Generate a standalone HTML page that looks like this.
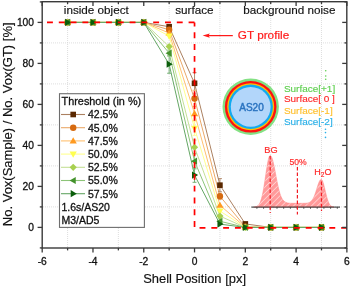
<!DOCTYPE html>
<html><head><meta charset="utf-8"><style>
html,body{margin:0;padding:0;background:#fff;width:350px;height:287px;overflow:hidden}
svg{display:block;will-change:transform}
</style></head><body>
<svg width="350" height="287" viewBox="0 0 350 287">
<g stroke="#d6d6d6" stroke-width="0.8" stroke-dasharray="1 1"><line x1="67.59" y1="2" x2="67.59" y2="247.5"/><line x1="118.37" y1="2" x2="118.37" y2="247.5"/><line x1="169.15" y1="2" x2="169.15" y2="247.5"/><line x1="219.93" y1="2" x2="219.93" y2="247.5"/><line x1="270.71" y1="2" x2="270.71" y2="247.5"/><line x1="321.49" y1="2" x2="321.49" y2="247.5"/><line x1="43" y1="206.90" x2="346" y2="206.90"/><line x1="43" y1="165.90" x2="346" y2="165.90"/><line x1="43" y1="124.90" x2="346" y2="124.90"/><line x1="43" y1="83.90" x2="346" y2="83.90"/><line x1="43" y1="42.90" x2="346" y2="42.90"/></g>
<polyline points="67.59,22.40 92.98,22.40 118.37,22.40 143.76,22.40 169.15,26.71 194.54,83.29 219.93,185.17 245.32,223.92 270.71,227.40 296.10,227.40 321.49,227.40" fill="none" stroke="#ab8060" stroke-width="1.0"/>
<polyline points="67.59,22.40 92.98,22.40 118.37,22.40 143.76,22.40 169.15,29.78 194.54,98.46 219.93,196.24 245.32,226.78 270.71,227.40 296.10,227.40 321.49,227.40" fill="none" stroke="#eaa868" stroke-width="1.0"/>
<polyline points="67.59,22.40 92.98,22.40 118.37,22.40 143.76,22.40 169.15,33.06 194.54,113.63 219.93,205.26 245.32,227.19 270.71,227.40 296.10,227.40 321.49,227.40" fill="none" stroke="#ffc070" stroke-width="1.0"/>
<polyline points="67.59,22.40 92.98,22.40 118.37,22.40 143.76,22.40 169.15,36.14 194.54,128.18 219.93,211.00 245.32,227.40 270.71,227.40 296.10,227.40 321.49,227.40" fill="none" stroke="#ffff90" stroke-width="1.0"/>
<polyline points="67.59,22.40 92.98,22.40 118.37,22.40 143.76,22.40 169.15,46.59 194.54,147.25 219.93,216.12 245.32,227.40 270.71,227.40 296.10,227.40 321.49,227.40" fill="none" stroke="#c4e096" stroke-width="1.0"/>
<polyline points="67.59,22.40 92.98,22.40 118.37,22.40 143.76,22.40 169.15,53.15 194.54,161.19 219.93,221.25 245.32,227.40 270.71,227.40 296.10,227.40 321.49,227.40" fill="none" stroke="#8cc478" stroke-width="1.0"/>
<polyline points="67.59,22.40 92.98,22.40 118.37,22.40 143.76,22.40 169.15,64.22 194.54,175.12 219.93,224.12 245.32,227.40 270.71,227.40 296.10,227.40 321.49,227.40" fill="none" stroke="#64a664" stroke-width="1.0"/>
<g stroke="#64a664" stroke-width="0.9"><line x1="169.15" y1="55.20" x2="169.15" y2="73.24"/><line x1="167.15" y1="55.20" x2="171.15" y2="55.20"/><line x1="167.15" y1="73.24" x2="171.15" y2="73.24"/></g>
<g stroke="#ab8060" stroke-width="0.9"><line x1="219.93" y1="178.61" x2="219.93" y2="191.73"/><line x1="217.93" y1="178.61" x2="221.93" y2="178.61"/><line x1="217.93" y1="191.73" x2="221.93" y2="191.73"/></g>
<g stroke="#8cc478" stroke-width="0.9"><line x1="169.15" y1="50.08" x2="169.15" y2="56.23"/><line x1="167.15" y1="50.08" x2="171.15" y2="50.08"/><line x1="167.15" y1="56.23" x2="171.15" y2="56.23"/></g>
<g stroke="#eaa868" stroke-width="0.9"><line x1="219.93" y1="193.17" x2="219.93" y2="199.31"/><line x1="217.93" y1="193.17" x2="221.93" y2="193.17"/><line x1="217.93" y1="199.31" x2="221.93" y2="199.31"/></g>
<g stroke="#ab8060" stroke-width="0.9"><line x1="194.54" y1="72.63" x2="194.54" y2="93.95"/><line x1="192.54" y1="72.63" x2="196.54" y2="72.63"/><line x1="192.54" y1="93.95" x2="196.54" y2="93.95"/></g>
<g stroke="#eaa868" stroke-width="0.9"><line x1="194.54" y1="90.25" x2="194.54" y2="106.66"/><line x1="192.54" y1="90.25" x2="196.54" y2="90.25"/><line x1="192.54" y1="106.66" x2="196.54" y2="106.66"/></g>
<g stroke="#ffc070" stroke-width="0.9"><line x1="194.54" y1="106.45" x2="194.54" y2="120.80"/><line x1="192.54" y1="106.45" x2="196.54" y2="106.45"/><line x1="192.54" y1="120.80" x2="196.54" y2="120.80"/></g>
<g stroke="#ffff90" stroke-width="0.9"><line x1="194.54" y1="121.01" x2="194.54" y2="135.36"/><line x1="192.54" y1="121.01" x2="196.54" y2="121.01"/><line x1="192.54" y1="135.36" x2="196.54" y2="135.36"/></g>
<g stroke="#c4e096" stroke-width="0.9"><line x1="194.54" y1="140.07" x2="194.54" y2="154.42"/><line x1="192.54" y1="140.07" x2="196.54" y2="140.07"/><line x1="192.54" y1="154.42" x2="196.54" y2="154.42"/></g>
<g stroke="#8cc478" stroke-width="0.9"><line x1="194.54" y1="153.40" x2="194.54" y2="168.98"/><line x1="192.54" y1="153.40" x2="196.54" y2="153.40"/><line x1="192.54" y1="168.98" x2="196.54" y2="168.98"/></g>
<g stroke="#64a664" stroke-width="0.9"><line x1="194.54" y1="167.95" x2="194.54" y2="182.30"/><line x1="192.54" y1="167.95" x2="196.54" y2="167.95"/><line x1="192.54" y1="182.30" x2="196.54" y2="182.30"/></g>
<rect x="64.79" y="19.60" width="5.60" height="5.60" fill="#5a2800"/>
<rect x="90.18" y="19.60" width="5.60" height="5.60" fill="#5a2800"/>
<rect x="115.57" y="19.60" width="5.60" height="5.60" fill="#5a2800"/>
<rect x="140.96" y="19.60" width="5.60" height="5.60" fill="#5a2800"/>
<rect x="166.35" y="23.91" width="5.60" height="5.60" fill="#5a2800"/>
<rect x="191.74" y="80.49" width="5.60" height="5.60" fill="#5a2800"/>
<rect x="217.13" y="182.37" width="5.60" height="5.60" fill="#5a2800"/>
<rect x="242.52" y="221.12" width="5.60" height="5.60" fill="#5a2800"/>
<rect x="267.91" y="224.60" width="5.60" height="5.60" fill="#5a2800"/>
<rect x="293.30" y="224.60" width="5.60" height="5.60" fill="#5a2800"/>
<rect x="318.69" y="224.60" width="5.60" height="5.60" fill="#5a2800"/>
<circle cx="67.59" cy="22.40" r="3.20" fill="#d66a10"/>
<circle cx="92.98" cy="22.40" r="3.20" fill="#d66a10"/>
<circle cx="118.37" cy="22.40" r="3.20" fill="#d66a10"/>
<circle cx="143.76" cy="22.40" r="3.20" fill="#d66a10"/>
<circle cx="169.15" cy="29.78" r="3.20" fill="#d66a10"/>
<circle cx="194.54" cy="98.46" r="3.20" fill="#d66a10"/>
<circle cx="219.93" cy="196.24" r="3.20" fill="#d66a10"/>
<circle cx="245.32" cy="226.78" r="3.20" fill="#d66a10"/>
<circle cx="270.71" cy="227.40" r="3.20" fill="#d66a10"/>
<circle cx="296.10" cy="227.40" r="3.20" fill="#d66a10"/>
<circle cx="321.49" cy="227.40" r="3.20" fill="#d66a10"/>
<path d="M67.59 18.80 L71.19 24.92 L63.99 24.92Z" fill="#ff9a20"/>
<path d="M92.98 18.80 L96.58 24.92 L89.38 24.92Z" fill="#ff9a20"/>
<path d="M118.37 18.80 L121.97 24.92 L114.77 24.92Z" fill="#ff9a20"/>
<path d="M143.76 18.80 L147.36 24.92 L140.16 24.92Z" fill="#ff9a20"/>
<path d="M169.15 29.46 L172.75 35.58 L165.55 35.58Z" fill="#ff9a20"/>
<path d="M194.54 110.03 L198.14 116.15 L190.94 116.15Z" fill="#ff9a20"/>
<path d="M219.93 201.66 L223.53 207.78 L216.33 207.78Z" fill="#ff9a20"/>
<path d="M245.32 223.59 L248.92 229.72 L241.72 229.72Z" fill="#ff9a20"/>
<path d="M270.71 223.80 L274.31 229.92 L267.11 229.92Z" fill="#ff9a20"/>
<path d="M296.10 223.80 L299.70 229.92 L292.50 229.92Z" fill="#ff9a20"/>
<path d="M321.49 223.80 L325.09 229.92 L317.89 229.92Z" fill="#ff9a20"/>
<path d="M67.59 26.00 L71.19 19.88 L63.99 19.88Z" fill="#ffff50"/>
<path d="M92.98 26.00 L96.58 19.88 L89.38 19.88Z" fill="#ffff50"/>
<path d="M118.37 26.00 L121.97 19.88 L114.77 19.88Z" fill="#ffff50"/>
<path d="M143.76 26.00 L147.36 19.88 L140.16 19.88Z" fill="#ffff50"/>
<path d="M169.15 39.74 L172.75 33.62 L165.55 33.62Z" fill="#ffff50"/>
<path d="M194.54 131.78 L198.14 125.66 L190.94 125.66Z" fill="#ffff50"/>
<path d="M219.93 214.60 L223.53 208.48 L216.33 208.48Z" fill="#ffff50"/>
<path d="M245.32 231.00 L248.92 224.88 L241.72 224.88Z" fill="#ffff50"/>
<path d="M270.71 231.00 L274.31 224.88 L267.11 224.88Z" fill="#ffff50"/>
<path d="M296.10 231.00 L299.70 224.88 L292.50 224.88Z" fill="#ffff50"/>
<path d="M321.49 231.00 L325.09 224.88 L317.89 224.88Z" fill="#ffff50"/>
<path d="M67.59 18.80 L71.19 22.40 L67.59 26.00 L63.99 22.40Z" fill="#a8d050"/>
<path d="M92.98 18.80 L96.58 22.40 L92.98 26.00 L89.38 22.40Z" fill="#a8d050"/>
<path d="M118.37 18.80 L121.97 22.40 L118.37 26.00 L114.77 22.40Z" fill="#a8d050"/>
<path d="M143.76 18.80 L147.36 22.40 L143.76 26.00 L140.16 22.40Z" fill="#a8d050"/>
<path d="M169.15 42.99 L172.75 46.59 L169.15 50.19 L165.55 46.59Z" fill="#a8d050"/>
<path d="M194.54 143.65 L198.14 147.25 L194.54 150.84 L190.94 147.25Z" fill="#a8d050"/>
<path d="M219.93 212.53 L223.53 216.12 L219.93 219.72 L216.33 216.12Z" fill="#a8d050"/>
<path d="M245.32 223.80 L248.92 227.40 L245.32 231.00 L241.72 227.40Z" fill="#a8d050"/>
<path d="M270.71 223.80 L274.31 227.40 L270.71 231.00 L267.11 227.40Z" fill="#a8d050"/>
<path d="M296.10 223.80 L299.70 227.40 L296.10 231.00 L292.50 227.40Z" fill="#a8d050"/>
<path d="M321.49 223.80 L325.09 227.40 L321.49 231.00 L317.89 227.40Z" fill="#a8d050"/>
<path d="M63.99 22.40 L70.11 18.80 L70.11 26.00Z" fill="#44922c"/>
<path d="M89.38 22.40 L95.50 18.80 L95.50 26.00Z" fill="#44922c"/>
<path d="M114.77 22.40 L120.89 18.80 L120.89 26.00Z" fill="#44922c"/>
<path d="M140.16 22.40 L146.28 18.80 L146.28 26.00Z" fill="#44922c"/>
<path d="M165.55 53.15 L171.67 49.55 L171.67 56.75Z" fill="#44922c"/>
<path d="M190.94 161.19 L197.06 157.59 L197.06 164.78Z" fill="#44922c"/>
<path d="M216.33 221.25 L222.45 217.65 L222.45 224.85Z" fill="#44922c"/>
<path d="M241.72 227.40 L247.84 223.80 L247.84 231.00Z" fill="#44922c"/>
<path d="M267.11 227.40 L273.23 223.80 L273.23 231.00Z" fill="#44922c"/>
<path d="M292.50 227.40 L298.62 223.80 L298.62 231.00Z" fill="#44922c"/>
<path d="M317.89 227.40 L324.01 223.80 L324.01 231.00Z" fill="#44922c"/>
<path d="M71.19 22.40 L65.07 18.80 L65.07 26.00Z" fill="#0b5e0b"/>
<path d="M96.58 22.40 L90.46 18.80 L90.46 26.00Z" fill="#0b5e0b"/>
<path d="M121.97 22.40 L115.85 18.80 L115.85 26.00Z" fill="#0b5e0b"/>
<path d="M147.36 22.40 L141.24 18.80 L141.24 26.00Z" fill="#0b5e0b"/>
<path d="M172.75 64.22 L166.63 60.62 L166.63 67.82Z" fill="#0b5e0b"/>
<path d="M198.14 175.12 L192.02 171.53 L192.02 178.72Z" fill="#0b5e0b"/>
<path d="M223.53 224.12 L217.41 220.52 L217.41 227.72Z" fill="#0b5e0b"/>
<path d="M248.92 227.40 L242.80 223.80 L242.80 231.00Z" fill="#0b5e0b"/>
<path d="M274.31 227.40 L268.19 223.80 L268.19 231.00Z" fill="#0b5e0b"/>
<path d="M299.70 227.40 L293.58 223.80 L293.58 231.00Z" fill="#0b5e0b"/>
<path d="M325.09 227.40 L318.97 223.80 L318.97 231.00Z" fill="#0b5e0b"/>
<g stroke="#ff0000" stroke-width="1.7" fill="none"><path d="M42.2 22.40 H194.54" stroke-dasharray="5.9 5.9" stroke-dashoffset="7.0"/><path d="M194.54 22.40 V227.40" stroke-dasharray="5.9 5.9" stroke-dashoffset="1.9"/><path d="M194.54 227.80 H347" stroke-dasharray="5.9 5.9" stroke-dashoffset="6.8"/></g>
<rect x="42.2" y="1.7" width="304.60" height="246.30" fill="none" stroke="#3a3a3a" stroke-width="1.4"/>
<g stroke="#3a3a3a" stroke-width="1.3"><line x1="42.20" y1="248.0" x2="42.20" y2="252.4"/><line x1="42.20" y1="1.7" x2="42.20" y2="6.1000000000000005"/><line x1="67.59" y1="248.0" x2="67.59" y2="250.4"/><line x1="67.59" y1="1.7" x2="67.59" y2="4.1"/><line x1="92.98" y1="248.0" x2="92.98" y2="252.4"/><line x1="92.98" y1="1.7" x2="92.98" y2="6.1000000000000005"/><line x1="118.37" y1="248.0" x2="118.37" y2="250.4"/><line x1="118.37" y1="1.7" x2="118.37" y2="4.1"/><line x1="143.76" y1="248.0" x2="143.76" y2="252.4"/><line x1="143.76" y1="1.7" x2="143.76" y2="6.1000000000000005"/><line x1="169.15" y1="248.0" x2="169.15" y2="250.4"/><line x1="169.15" y1="1.7" x2="169.15" y2="4.1"/><line x1="194.54" y1="248.0" x2="194.54" y2="252.4"/><line x1="194.54" y1="1.7" x2="194.54" y2="6.1000000000000005"/><line x1="219.93" y1="248.0" x2="219.93" y2="250.4"/><line x1="219.93" y1="1.7" x2="219.93" y2="4.1"/><line x1="245.32" y1="248.0" x2="245.32" y2="252.4"/><line x1="245.32" y1="1.7" x2="245.32" y2="6.1000000000000005"/><line x1="270.71" y1="248.0" x2="270.71" y2="250.4"/><line x1="270.71" y1="1.7" x2="270.71" y2="4.1"/><line x1="296.10" y1="248.0" x2="296.10" y2="252.4"/><line x1="296.10" y1="1.7" x2="296.10" y2="6.1000000000000005"/><line x1="321.49" y1="248.0" x2="321.49" y2="250.4"/><line x1="321.49" y1="1.7" x2="321.49" y2="4.1"/><line x1="346.88" y1="248.0" x2="346.88" y2="252.4"/><line x1="346.88" y1="1.7" x2="346.88" y2="6.1000000000000005"/><line x1="42.2" y1="247.90" x2="39.800000000000004" y2="247.90"/><line x1="346.8" y1="247.90" x2="344.40000000000003" y2="247.90"/><line x1="42.2" y1="227.40" x2="37.6" y2="227.40"/><line x1="346.8" y1="227.40" x2="342.2" y2="227.40"/><line x1="42.2" y1="206.90" x2="39.800000000000004" y2="206.90"/><line x1="346.8" y1="206.90" x2="344.40000000000003" y2="206.90"/><line x1="42.2" y1="186.40" x2="37.6" y2="186.40"/><line x1="346.8" y1="186.40" x2="342.2" y2="186.40"/><line x1="42.2" y1="165.90" x2="39.800000000000004" y2="165.90"/><line x1="346.8" y1="165.90" x2="344.40000000000003" y2="165.90"/><line x1="42.2" y1="145.40" x2="37.6" y2="145.40"/><line x1="346.8" y1="145.40" x2="342.2" y2="145.40"/><line x1="42.2" y1="124.90" x2="39.800000000000004" y2="124.90"/><line x1="346.8" y1="124.90" x2="344.40000000000003" y2="124.90"/><line x1="42.2" y1="104.40" x2="37.6" y2="104.40"/><line x1="346.8" y1="104.40" x2="342.2" y2="104.40"/><line x1="42.2" y1="83.90" x2="39.800000000000004" y2="83.90"/><line x1="346.8" y1="83.90" x2="344.40000000000003" y2="83.90"/><line x1="42.2" y1="63.40" x2="37.6" y2="63.40"/><line x1="346.8" y1="63.40" x2="342.2" y2="63.40"/><line x1="42.2" y1="42.90" x2="39.800000000000004" y2="42.90"/><line x1="346.8" y1="42.90" x2="344.40000000000003" y2="42.90"/><line x1="42.2" y1="22.40" x2="37.6" y2="22.40"/><line x1="346.8" y1="22.40" x2="342.2" y2="22.40"/><line x1="42.2" y1="1.90" x2="39.800000000000004" y2="1.90"/><line x1="346.8" y1="1.90" x2="344.40000000000003" y2="1.90"/></g>
<g font-family='"Liberation Sans", sans-serif' font-size="10.25" fill="#111" stroke="#111" stroke-width="0.3"><text x="42.20" y="264.6" text-anchor="middle">-6</text><text x="92.98" y="264.6" text-anchor="middle">-4</text><text x="143.76" y="264.6" text-anchor="middle">-2</text><text x="194.54" y="264.6" text-anchor="middle">0</text><text x="245.32" y="264.6" text-anchor="middle">2</text><text x="296.10" y="264.6" text-anchor="middle">4</text><text x="346.88" y="264.6" text-anchor="middle">6</text><text x="34" y="231.00" text-anchor="end">0</text><text x="34" y="190.00" text-anchor="end">20</text><text x="34" y="149.00" text-anchor="end">40</text><text x="34" y="108.00" text-anchor="end">60</text><text x="34" y="67.00" text-anchor="end">80</text><text x="34" y="26.00" text-anchor="end">100</text></g>
<text x="194.6" y="283.4" text-anchor="middle" font-family='"Liberation Sans", sans-serif' font-size="12.95" fill="#111" stroke="#111" stroke-width="0.15">Shell Position [px]</text>
<text transform="translate(11.5 124.3) rotate(-90)" text-anchor="middle" font-family='"Liberation Sans", sans-serif' font-size="13" fill="#111" stroke="#111" stroke-width="0.15">No. Vox(Sample) / No. Vox(GT) [%]</text>
<g font-family='"Liberation Sans", sans-serif' font-size="11.7" fill="#111" stroke="#111" stroke-width="0.15"><text x="63.8" y="14.4">inside object</text><text x="175.2" y="14.4">surface</text><text x="243.2" y="14.4">background noise</text></g>
<g stroke="#ff1a1a" stroke-width="1.25"><line x1="207" y1="35.6" x2="232.8" y2="35.6"/></g><path d="M202.6 35.6 L209.8 33.5 L208.6 35.6 L209.8 37.7Z" fill="#ff1a1a"/><text x="237.8" y="38.9" font-family='"Liberation Sans", sans-serif' font-size="11.75" fill="#ff1a1a" stroke="#ff1a1a" stroke-width="0.2">GT profile</text>
<rect x="59.5" y="93.7" width="84.9" height="133.7" fill="#fff" stroke="#6e6e6e" stroke-width="1.1"/>
<text x="61.6" y="104.8" font-family='"Liberation Sans", sans-serif' font-size="10.85" fill="#111" stroke="#111" stroke-width="0.3">Threshold (in %)</text>
<line x1="61" y1="114.50" x2="85" y2="114.50" stroke="#ab8060" stroke-width="1.1"/>
<rect x="70.40" y="111.70" width="5.60" height="5.60" fill="#5a2800"/>
<text x="88" y="118.40" font-family='"Liberation Sans", sans-serif' font-size="10.5" fill="#111" stroke="#111" stroke-width="0.3">42.5%</text>
<line x1="61" y1="127.70" x2="85" y2="127.70" stroke="#eaa868" stroke-width="1.1"/>
<circle cx="73.20" cy="127.70" r="3.20" fill="#d66a10"/>
<text x="88" y="131.60" font-family='"Liberation Sans", sans-serif' font-size="10.5" fill="#111" stroke="#111" stroke-width="0.3">45.0%</text>
<line x1="61" y1="140.90" x2="85" y2="140.90" stroke="#ffc070" stroke-width="1.1"/>
<path d="M73.20 137.30 L76.80 143.42 L69.60 143.42Z" fill="#ff9a20"/>
<text x="88" y="144.80" font-family='"Liberation Sans", sans-serif' font-size="10.5" fill="#111" stroke="#111" stroke-width="0.3">47.5%</text>
<line x1="61" y1="154.10" x2="85" y2="154.10" stroke="#ffff90" stroke-width="1.1"/>
<path d="M73.20 157.70 L76.80 151.58 L69.60 151.58Z" fill="#ffff50"/>
<text x="88" y="158.00" font-family='"Liberation Sans", sans-serif' font-size="10.5" fill="#111" stroke="#111" stroke-width="0.3">50.0%</text>
<line x1="61" y1="167.30" x2="85" y2="167.30" stroke="#c4e096" stroke-width="1.1"/>
<path d="M73.20 163.70 L76.80 167.30 L73.20 170.90 L69.60 167.30Z" fill="#a8d050"/>
<text x="88" y="171.20" font-family='"Liberation Sans", sans-serif' font-size="10.5" fill="#111" stroke="#111" stroke-width="0.3">52.5%</text>
<line x1="61" y1="180.50" x2="85" y2="180.50" stroke="#8cc478" stroke-width="1.1"/>
<path d="M69.60 180.50 L75.72 176.90 L75.72 184.10Z" fill="#44922c"/>
<text x="88" y="184.40" font-family='"Liberation Sans", sans-serif' font-size="10.5" fill="#111" stroke="#111" stroke-width="0.3">55.0%</text>
<line x1="61" y1="193.70" x2="85" y2="193.70" stroke="#64a664" stroke-width="1.1"/>
<path d="M76.80 193.70 L70.68 190.10 L70.68 197.30Z" fill="#0b5e0b"/>
<text x="88" y="197.60" font-family='"Liberation Sans", sans-serif' font-size="10.5" fill="#111" stroke="#111" stroke-width="0.3">57.5%</text>
<text x="61.4" y="210.8" font-family='"Liberation Sans", sans-serif' font-size="10.5" fill="#111" stroke="#111" stroke-width="0.3">1.6s/AS20</text>
<text x="61.4" y="223.7" font-family='"Liberation Sans", sans-serif' font-size="10.5" fill="#111" stroke="#111" stroke-width="0.3">M3/AD5</text>
<circle cx="250.7" cy="106.8" r="28.2" fill="#84e184"/><circle cx="250.7" cy="106.8" r="25.8" fill="#ff1010"/><circle cx="250.7" cy="106.8" r="23.5" fill="#ffc000"/><circle cx="250.7" cy="106.8" r="22.2" fill="#12aaf0"/><circle cx="250.7" cy="106.8" r="19.9" fill="#b2d6fa"/><text transform="translate(251.5 110.7) scale(0.95 1)" text-anchor="middle" font-family='"Liberation Sans", sans-serif' font-size="10.6" fill="#2b74c0" stroke="#2b74c0" stroke-width="0.45">AS20</text>
<text transform="translate(283.9 91.7) scale(1.04 1)" font-family='"Liberation Sans", sans-serif' font-size="9.6" fill="#5fcf50" stroke="#5fcf50" stroke-width="0.15" xml:space="preserve">Surface[+1]</text>
<text transform="translate(283.9 102.30000000000001) scale(1.04 1)" font-family='"Liberation Sans", sans-serif' font-size="9.6" fill="#ff2a2a" stroke="#ff2a2a" stroke-width="0.15" xml:space="preserve">Surface[ 0 ]</text>
<text transform="translate(283.9 113.80000000000001) scale(1.04 1)" font-family='"Liberation Sans", sans-serif' font-size="9.6" fill="#ffc030" stroke="#ffc030" stroke-width="0.15" xml:space="preserve">Surface[-1]</text>
<text transform="translate(283.9 124.9) scale(1.04 1)" font-family='"Liberation Sans", sans-serif' font-size="9.6" fill="#2ab0e8" stroke="#2ab0e8" stroke-width="0.15" xml:space="preserve">Surface[-2]</text>
<circle cx="325.7" cy="70.8" r="0.8" fill="#5fcf50"/>
<circle cx="325.7" cy="76" r="0.8" fill="#5fcf50"/>
<circle cx="325.7" cy="79.3" r="0.8" fill="#5fcf50"/>
<circle cx="325.5" cy="129.2" r="0.8" fill="#2ab0e8"/>
<circle cx="325.5" cy="132.6" r="0.8" fill="#2ab0e8"/>
<circle cx="325.5" cy="137.4" r="0.8" fill="#2ab0e8"/>
<defs><pattern id="hatch" patternUnits="userSpaceOnUse" width="4.2" height="4.2" patternTransform="rotate(45)"><rect width="4.2" height="4.2" fill="#ff9a9a"/><line x1="0" y1="0" x2="0" y2="4.2" stroke="#ffdcdc" stroke-width="1.4"/></pattern></defs>
<path d="M254 207.1 L254.0,207.00 L254.5,206.95 L255.0,206.88 L255.5,206.79 L256.0,206.66 L256.5,206.49 L257.0,206.26 L257.5,205.96 L258.0,205.57 L258.5,205.07 L259.0,204.44 L259.5,203.65 L260.0,202.68 L260.5,201.51 L261.0,200.12 L261.5,198.47 L262.0,196.57 L262.5,194.39 L263.0,191.94 L263.5,189.24 L264.0,186.29 L264.5,183.15 L265.0,179.86 L265.5,176.48 L266.0,173.09 L266.5,169.76 L267.0,166.59 L267.5,163.67 L268.0,161.08 L268.5,158.90 L269.0,157.22 L269.5,156.09 L270.0,155.55 L270.5,155.57 L271.0,156.02 L271.5,156.85 L272.0,158.05 L272.5,159.59 L273.0,161.42 L273.5,163.52 L274.0,165.82 L274.5,168.28 L275.0,170.85 L275.5,173.48 L276.0,176.13 L276.5,178.75 L277.0,181.30 L277.5,183.75 L278.0,186.07 L278.5,188.23 L279.0,190.24 L279.5,192.06 L280.0,193.71 L280.5,195.17 L281.0,196.46 L281.5,197.58 L282.0,198.53 L282.5,199.34 L283.0,200.01 L283.5,200.56 L284.0,201.01 L284.5,201.47 L285.0,201.85 L285.5,202.16 L286.0,202.41 L286.5,202.61 L287.0,202.77 L287.5,202.90 L288.0,202.99 L288.5,203.07 L289.0,203.13 L289.5,203.17 L290.0,203.21 L290.5,203.23 L291.0,203.25 L291.5,203.27 L292.0,203.28 L292.5,203.28 L293.0,203.29 L293.5,203.29 L294.0,203.29 L294.5,203.30 L295.0,203.30 L295.5,203.30 L296.0,203.30 L296.5,203.30 L297.0,203.30 L297.5,203.30 L298.0,203.30 L298.5,203.30 L299.0,203.30 L299.5,203.30 L300.0,203.30 L300.5,203.30 L301.0,203.30 L301.5,203.30 L302.0,203.30 L302.5,203.29 L303.0,203.29 L303.5,203.29 L304.0,203.28 L304.5,203.27 L305.0,203.25 L305.5,203.23 L306.0,203.20 L306.5,203.16 L307.0,203.10 L307.5,203.02 L308.0,202.91 L308.5,202.77 L309.0,202.59 L309.5,202.36 L310.0,202.07 L310.5,201.70 L311.0,201.25 L311.5,200.71 L312.0,200.07 L312.5,199.44 L313.0,198.67 L313.5,197.77 L314.0,196.73 L314.5,195.54 L315.0,194.23 L315.5,192.80 L316.0,191.28 L316.5,189.70 L317.0,188.09 L317.5,186.49 L318.0,184.94 L318.5,183.51 L319.0,182.22 L319.5,181.13 L320.0,180.28 L320.5,179.71 L321.0,179.43 L321.5,179.48 L322.0,179.98 L322.5,180.90 L323.0,182.20 L323.5,183.82 L324.0,185.69 L324.5,187.74 L325.0,189.87 L325.5,192.02 L326.0,194.11 L326.5,196.10 L327.0,197.93 L327.5,199.59 L328.0,201.04 L328.5,202.30 L329.0,203.35 L329.5,204.22 L330.0,204.93 L330.5,205.49 L331.0,205.92 L331.5,206.25 L332.0,206.50 L332.5,206.68 L333.0,206.82 L333.5,206.91 L334.0,206.97 L334 207.1 Z" fill="url(#hatch)" stroke="#ff8080" stroke-width="0.5"/>
<line x1="251.4" y1="207.1" x2="340" y2="207.1" stroke="#222" stroke-width="1"/>
<g stroke="#222" stroke-width="0.6"><line x1="256.90" y1="207.1" x2="256.90" y2="209"/><line x1="263.60" y1="207.1" x2="263.60" y2="209"/><line x1="270.30" y1="207.1" x2="270.30" y2="209"/><line x1="277.00" y1="207.1" x2="277.00" y2="209"/><line x1="283.70" y1="207.1" x2="283.70" y2="209"/><line x1="290.40" y1="207.1" x2="290.40" y2="209"/><line x1="297.10" y1="207.1" x2="297.10" y2="209"/><line x1="303.80" y1="207.1" x2="303.80" y2="209"/><line x1="310.50" y1="207.1" x2="310.50" y2="209"/><line x1="317.20" y1="207.1" x2="317.20" y2="209"/><line x1="323.90" y1="207.1" x2="323.90" y2="209"/><line x1="330.60" y1="207.1" x2="330.60" y2="209"/><line x1="337.30" y1="207.1" x2="337.30" y2="209"/></g>
<g stroke="#f01c24" stroke-width="1.2" stroke-dasharray="3.5 2.1"><line x1="270.2" y1="156" x2="270.2" y2="213"/><line x1="297.4" y1="167" x2="297.4" y2="214.5"/><line x1="321.5" y1="181.5" x2="321.5" y2="211"/></g>
<g font-family='"Liberation Sans", sans-serif' fill="#ff2a2a" stroke="#ff2a2a" stroke-width="0.2" font-size="8.6"><text transform="translate(271 152.5) scale(1.07 1)" text-anchor="middle">BG</text><text x="298" y="164.7" text-anchor="middle">50%</text><text x="314.3" y="175.4" font-size="9">H<tspan font-size="6.5" dy="1.8">2</tspan><tspan dy="-1.8">O</tspan></text></g>
</svg>
</body></html>
